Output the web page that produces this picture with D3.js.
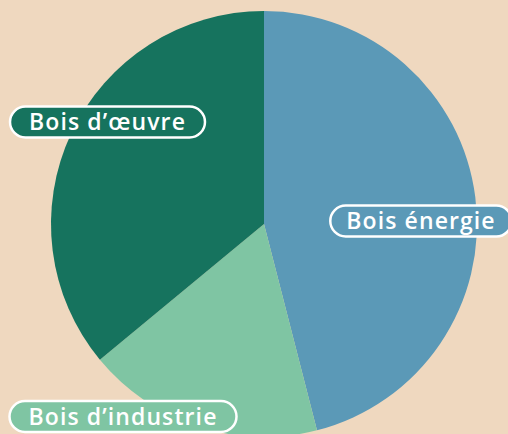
<!DOCTYPE html>
<html>
<head>
<meta charset="utf-8">
<script src="https://cdn.jsdelivr.net/npm/d3@7"></script>
<style>
  html, body { margin: 0; padding: 0; background: #efd8bf; }
  svg { display: block; }
</style>
</head>
<body>
<div id="chart"></div>
<script>
const categories = ["Bois énergie", "Bois d\u2019industrie", "Bois d\u2019\u0153uvre"];
const values = [46, 18, 36];
const colors = ["#5b99b7", "#7fc5a3", "#16735e"];

const width = 508, height = 434;
const cx = 264, cy = 224, radius = 213;

const svg = d3.select("#chart")
    .append("svg")
    .attr("width", width)
    .attr("height", height);

const data = categories.map((c, i) => ({ name: c, value: values[i], color: colors[i] }));

const pie = d3.pie()
    .value(d => d.value)
    .sort(null);

const arc = d3.arc()
    .innerRadius(0)
    .outerRadius(radius);

const g = svg.append("g")
    .attr("transform", `translate(${cx},${cy})`);

g.selectAll("path")
    .data(pie(data))
    .join("path")
    .attr("d", arc)
    .attr("fill", d => d.data.color);

// label placement (center of each pill)
const labelPos = [
    { x: 421, y: 221 },
    { x: 123, y: 416.5 },
    { x: 107.5, y: 122 }
];

const labels = svg.append("g")
    .selectAll("g")
    .data(data)
    .join("g")
    .attr("transform", (d, i) => `translate(${labelPos[i].x},${labelPos[i].y})`);

labels.append("rect");

labels.append("text")
    .attr("text-anchor", "middle")
    .attr("dy", "0.36em")
    .attr("font-family", "'Open Sans', sans-serif")
    .attr("font-weight", 600)
    .attr("font-size", "23px")
    .attr("letter-spacing", "1.1px")
    .attr("fill", "#fff")
    .text(d => d.name);

labels.each(function(d, i) {
    const grp = d3.select(this);
    const pad = i === 0 ? 32 : 38;
    const w = grp.select("text").node().getComputedTextLength() + pad;
    const h = 31;
    grp.select("rect")
        .attr("x", -w / 2)
        .attr("y", -h / 2)
        .attr("width", w)
        .attr("height", h)
        .attr("rx", h / 2)
        .attr("fill", d.color)
        .attr("stroke", "#fff")
        .attr("stroke-width", 2.5);
});
</script>
</body>
</html>
